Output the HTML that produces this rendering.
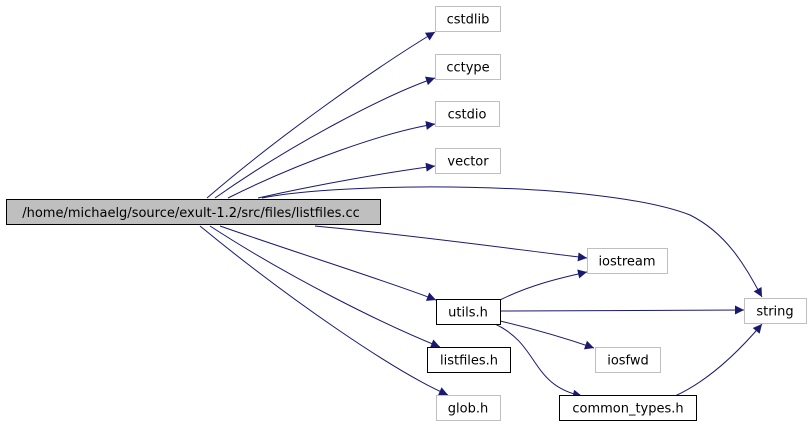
<!DOCTYPE html>
<html><head><style>
body{margin:0;background:#fff;}
svg text{font-family:"DejaVu Sans","Liberation Sans",sans-serif;font-size:13px;text-anchor:middle;fill:#000;}
</style></head><body>
<svg width="811" height="424" viewBox="0 0 811 424" xmlns="http://www.w3.org/2000/svg">
<defs><marker id="a" viewBox="0 0 10 10" refX="10" refY="5" markerWidth="12" markerHeight="9" markerUnits="userSpaceOnUse" orient="auto"><path d="M0,0L10,5L0,10z" fill="#191970"/></marker></defs>
<g fill="none" stroke="#191970" stroke-width="1" marker-end="url(#a)">
<path d="M207,198 C280,135 380,65 435,32"/>
<path d="M215,198 C290,145 385,95 435,78"/>
<path d="M228,198 C300,162 385,132 435,124"/>
<path d="M258,198 C320,184 390,172 435,166"/>
<path d="M262,198 C340,182 600,180 690,215 C730,235 748,272 762,297"/>
<path d="M315,226 C420,236 520,250 587,258"/>
<path d="M220,226 C300,254 390,282 436,300"/>
<path d="M210,226 C290,278 385,325 440,347"/>
<path d="M200,226 C290,300 395,372 448,395"/>
<path d="M500,300 C530,285 560,278 587,272"/>
<path d="M500,311 C600,310 690,310 744,310"/>
<path d="M500,321 C530,328 565,338 594,348"/>
<path d="M495,324 C540,345 530,385 582,396"/>
<path d="M675,396 C710,380 740,350 762,324"/>
</g>
<g stroke-width="1">
<rect x="6.5" y="199.5" width="374" height="25" fill="#bfbfbf" stroke="#000"/>
<rect x="435.5" y="6.5" width="65" height="25" fill="#fff" stroke="#bfbfbf"/>
<rect x="435.5" y="54.5" width="65" height="25" fill="#fff" stroke="#bfbfbf"/>
<rect x="435.5" y="101.5" width="64" height="25" fill="#fff" stroke="#bfbfbf"/>
<rect x="435.5" y="148.5" width="65" height="25" fill="#fff" stroke="#bfbfbf"/>
<rect x="587.5" y="248.5" width="80" height="25" fill="#fff" stroke="#bfbfbf"/>
<rect x="436.5" y="299.5" width="64" height="25" fill="#fff" stroke="#000"/>
<rect x="744.5" y="298.5" width="62" height="25" fill="#fff" stroke="#bfbfbf"/>
<rect x="427.5" y="347.5" width="83" height="25" fill="#fff" stroke="#000"/>
<rect x="595.5" y="347.5" width="65" height="25" fill="#fff" stroke="#bfbfbf"/>
<rect x="436.5" y="395.5" width="64" height="25" fill="#fff" stroke="#bfbfbf"/>
<rect x="559.5" y="395.5" width="137" height="25" fill="#fff" stroke="#000"/>
</g>
<text x="191" y="217">/home/michaelg/source/exult-1.2/src/files/listfiles.cc</text>
<text x="468" y="23.5">cstdlib</text>
<text x="468" y="71.5">cctype</text>
<text x="467" y="118.5">cstdio</text>
<text x="468" y="165.5">vector</text>
<text x="627" y="265.5">iostream</text>
<text x="468" y="316.5">utils.h</text>
<text x="775" y="315.5">string</text>
<text x="469" y="364.5">listfiles.h</text>
<text x="628" y="364.5">iosfwd</text>
<text x="468" y="412.5">glob.h</text>
<text x="628" y="412.5">common_types.h</text>
</svg>
</body></html>
